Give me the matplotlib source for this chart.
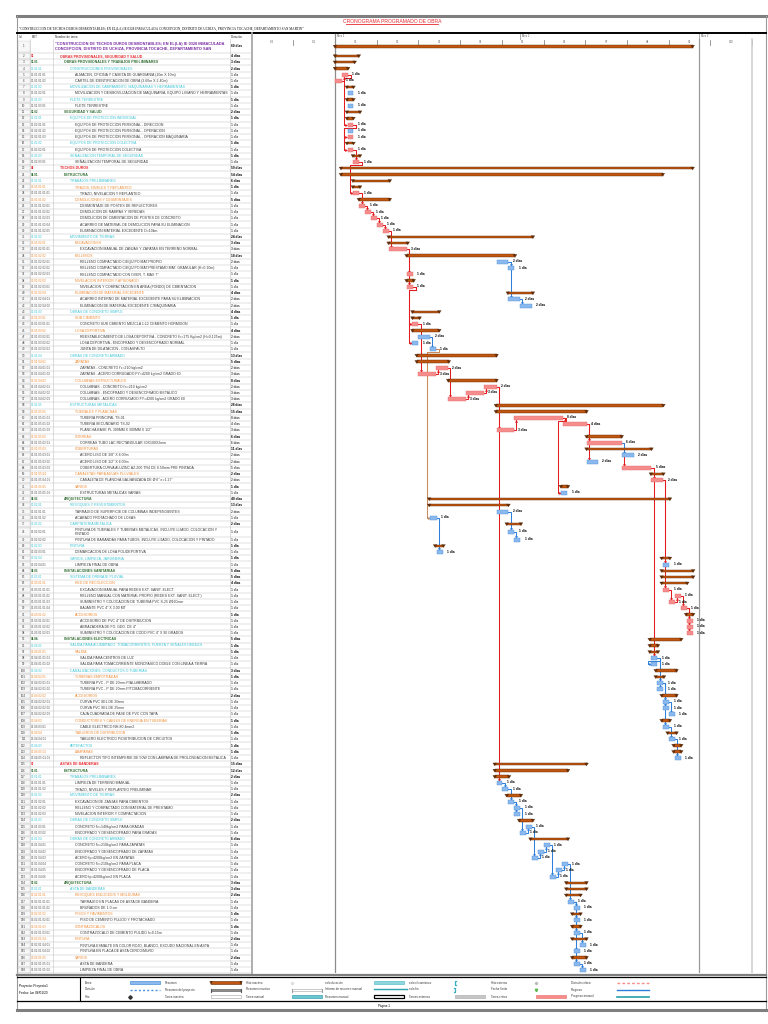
import matplotlib
matplotlib.use('Agg')
import matplotlib.pyplot as plt
from matplotlib.patches import Rectangle, Polygon
import numpy as np

plt.rcParams['font.family'] = ['Liberation Sans', 'DejaVu Sans']

# ---------------- DATA ----------------
title = "CRONOGRAMA PROGRAMADO DE OBRA"
subtitle = ('"CONSTRUCCION DE TECHOS DUROS DESMONTABLES; EN EL(LA) IE 0328 INMACULADA CONCEPCION, '
            'DISTRITO DE UCHIZA, PROVINCIA TOCACHE, DEPARTAMENTO SAN MARTIN"')
col_headers = ["Id", "EDT", "Nombre de tarea", "Duración"]
month_labels = ["Mes 1", "Mes 2", "Mes 3"]
month_days = [0, 31, 61]
week_labels = ["S-2", "S-1", "S1", "S2", "S3", "S4", "S5", "S6", "S7", "S8", "S9", "S10"]
week_starts = [-14, -7, 0, 7, 14, 21, 28, 35, 42, 49, 56, 63]

edt_codes = [
    "", "01", "01.01.", "01.01.01", "01.01.01.01", "01.01.01.02", "01.01.02", "01.01.02.01",
    "01.01.03", "01.01.03.01", "01.02.", "01.02.01", "01.02.01.01", "01.02.01.02", "01.02.01.03",
    "01.02.02", "01.02.02.01", "01.02.03", "01.02.03.01", "02", "02.01.", "02.01.01",
    "02.01.01.01", "02.01.01.01.01", "02.01.01.02", "02.01.01.02.01", "02.01.01.02.02",
    "02.01.01.02.03", "02.01.01.02.04", "02.01.01.02.05", "02.01.02", "02.01.02.01",
    "02.01.02.01.01", "02.01.02.02", "02.01.02.02.01", "02.01.02.02.02", "02.01.02.02.03",
    "02.01.02.03", "02.01.02.03.01", "02.01.02.04", "02.01.02.04.01", "02.01.02.04.02",
    "02.01.03", "02.01.03.01", "02.01.03.01.01", "02.01.03.02", "02.01.03.02.01",
    "02.01.03.02.02", "02.01.03.02.03", "02.01.04", "02.01.04.01", "02.01.04.01.01",
    "02.01.04.01.02", "02.01.04.02", "02.01.04.02.01", "02.01.04.02.02", "02.01.04.02.03",
    "02.01.05", "02.01.05.01", "02.01.05.01.01", "02.01.05.01.02", "02.01.05.01.03",
    "02.01.05.02", "02.01.05.02.01", "02.01.05.03", "02.01.05.03.01", "02.01.05.03.02",
    "02.01.05.03.03", "02.01.05.04", "02.01.05.04.01", "02.01.05.05", "02.01.05.05.01",
    "02.02.", "02.02.01", "02.02.01.01", "02.02.01.02", "02.02.02", "02.02.02.01",
    "02.02.02.02", "02.02.03", "02.02.03.01", "02.02.04", "02.02.04.01", "02.03.",
    "02.03.01", "02.03.01.01", "02.03.01.01.01", "02.03.01.01.02", "02.03.01.01.03",
    "02.03.01.01.04", "02.03.01.02", "02.03.01.02.01", "02.03.01.02.02", "02.03.01.02.03",
    "02.04.", "02.04.01", "02.04.01.01", "02.04.01.01.01", "02.04.01.01.02", "02.04.02",
    "02.04.02.01", "02.04.02.01.01", "02.04.02.01.02", "02.04.02.02", "02.04.02.02.01",
    "02.04.02.02.02", "02.04.02.02.03", "02.04.03", "02.04.03.01", "02.04.04",
    "02.04.04.01", "02.04.05", "02.04.05.01", "02.04.05.01.01", "03", "03.01.", "03.01.01",
    "03.01.01.01", "03.01.01.02", "03.01.02", "03.01.02.01", "03.01.02.02", "03.01.02.03",
    "03.01.03", "03.01.03.01", "03.01.03.02", "03.01.04", "03.01.04.01", "03.01.04.02",
    "03.01.04.03", "03.01.04.04", "03.01.04.05", "03.01.04.06", "03.02.", "03.02.01",
    "03.02.01.01", "03.02.01.01.01", "03.02.01.01.02", "03.02.01.02", "03.02.01.02.01",
    "03.02.01.03", "03.02.01.03.01", "03.02.01.04", "03.02.01.04.01", "03.02.01.04.02",
    "03.02.01.05", "03.02.01.05.01", "03.02.01.05.02",
]

task_names = [
    '"CONSTRUCCION DE TECHOS DUROS DESMONTABLES; EN EL(LA) IE 0328 INMACULADA\nCONCEPCION, DISTRITO DE UCHIZA, PROVINCIA TOCACHE, DEPARTAMENTO SAN',
    "OBRAS PROVISIONALES, SEGURIDAD Y SALUD",
    "OBRAS PROVISIONALES Y TRABAJOS PRELIMINARES",
    "CONSTRUCCIONES PROVISIONALES",
    "ALMACEN, OFICINA Y CASETA DE GUARDIANIA (10m X 10m)",
    "CARTEL DE IDENTIFICACION DE OBRA (3.60m X 2.40m)",
    "MOVILIZACION DE CAMPAMENTO, MAQUINARIAS Y HERRAMIENTAS",
    "MOVILIZACION Y DESMOVILIZACION DE MAQUINARIA, EQUIPO LIVIANO Y HERRAMIENTAS",
    "FLETE TERRESTRE",
    "FLETE TERRESTRE",
    "SEGURIDAD Y SALUD",
    "EQUIPOS DE PROTECCION INDIVIDUAL",
    "EQUIPOS DE PROTECCION PERSONAL - DIRECCION",
    "EQUIPOS DE PROTECCION PERSONAL - OPERACION",
    "EQUIPOS DE PROTECCION PERSONAL - OPERACION MAQUINARIA",
    "EQUIPOS DE PROTECCION COLECTIVA",
    "EQUIPOS DE PROTECCION COLECTIVA",
    "SEÑALIZACION TEMPORAL DE SEGURIDAD",
    "SEÑALIZACION TEMPORAL DE SEGURIDAD",
    "TECHOS DUROS",
    "ESTRUCTURA",
    "TRABAJOS PRELIMINARES",
    "TRAZOS, NIVELES Y REPLANTEO",
    "TRAZO, NIVELACION Y REPLANTEO",
    "DEMOLICIONES Y DESMONTAJES",
    "DESMONTAJE DE POSTES DE REFLECTORES",
    "DEMOLICION DE RAMPAS Y VEREDAS",
    "DEMOLICION DE CIMENTACION DE POSTES DE CONCRETO",
    "ACARREO DE MATERIAL DE DEMOLICION PARA SU ELIMINACION",
    "ELIMINACION MATERIAL EXCEDENTE D=10km",
    "MOVIMIENTO DE TIERRAS",
    "EXCAVACIONES",
    "EXCAVACION MANUAL DE ZANJAS Y ZAPATAS EN TERRENO NORMAL",
    "RELLENOS",
    "RELLENO COMPACTADO C/EQUIPO MAT.PROPIO",
    "RELLENO COMPACTADO C/EQUIPO MAT.PRESTAMO MAT. GRANULAR (H=0.10m)",
    'RELLENO COMPACTADO CON OVER, T. MAX 7"',
    "NIVELACION INTERIOR Y APISONADO",
    "NIVELACION Y COMPACTACION EN AREA (FONDO) DE CIMENTACION",
    "ELIMINACION DE MATERIAL EXCEDENTE",
    "ACARREO INTERNO DE MATERIAL EXCEDENTE PARA SU ELIMINACION",
    "ELIMINACION DE MATERIAL EXCEDENTE C/MAQUINARIA",
    "OBRAS DE CONCRETO SIMPLE",
    "SUB CIMIENTO",
    "CONCRETO SUB CIMIENTO MEZCLA 1:12 CEMENTO HORMIGON",
    "LOSA DEPORTIVA",
    "REESTABLECIMIENTO DE LOSA DEPORTIVA - CONCRETO f'c=175 Kg/cm2 (H=0.125m)",
    "LOSA DEPORTIVA - ENCOFRADO Y DESENCOFRADO NORMAL",
    "JUNTA DE DILATACION - CON ASFALTO",
    "OBRAS DE CONCRETO ARMADO",
    "ZAPATAS",
    "ZAPATAS - CONCRETO f'c=210 kg/cm2",
    "ZAPATAS - ACERO CORRUGADO FY=4200 kg/cm2 GRADO 60",
    "COLUMNAS ESTRUCTURALES",
    "COLUMNAS - CONCRETO f'c=210 kg/cm2",
    "COLUMNAS - ENCOFRADO Y DESENCOFRADO METALICO",
    "COLUMNAS - ACERO CORRUGADO FY=4200 kg/cm2 GRADO 60",
    "ESTRUCTURAS METALICAS",
    "TIJERALES Y PLANCHAS",
    "TUBERIA PRINCIPAL TS-01",
    "TUBERIA SECUNDARIO TS-02",
    'PLANCHA BASE PL 300MM X 300MM X 1/2"',
    "CORREAS",
    "CORREAS TUBO LAC RECTANGULAR 30X100X2mm",
    "COBERTURAS",
    'ACERO LISO DE 3/8" X 6.00m',
    'ACERO LISO DE 1/2" X 6.00m',
    "COBERTURA CURVA ALUZINC AZ-200 TR4 DE 0.50mm PRE PINTADA",
    "CANALETAS PARA AGUAS PLUVIALES",
    'CANALETA DE PLANCHA GALVANIZADA DE Ø 6" e=1.27"',
    "VARIOS",
    "ESTRUCTURAS METALICAS VARIAS",
    "ARQUITECTURA",
    "REVOQUES Y REVESTIMIENTOS",
    "TARRAJEO DE SUPERFICIE DE COLUMNAS INDEPENDIENTES",
    "ACABADO FROTACHADO DE LOSAS",
    "CARPINTERIA METALICA",
    "PINTURA DE TIJERALES Y TUBERIAS METALICAS, INCLUYE LIJADO, COLOCACION Y\nPINTADO",
    "PINTURA DE BARANDAS PARA TUBOS, INCLUYE LIJADO, COLOCACION Y PINTADO",
    "PINTURA",
    "DEMARCACION DE LOSA POLIDEPORTIVA",
    "VARIOS, LIMPIEZA, JARDINERIA",
    "LIMPIEZA FINAL DE OBRA",
    "INSTALACIONES SANITARIAS",
    "SISTEMA DE DRENAJE PLUVIAL",
    "RED DE RECOLECCION",
    "EXCAVACION MANUAL PARA REDES EXT. SANIT. ELECT.",
    "RELLENO MANUAL CON MATERIAL PROPIO (REDES EXT. SANIT. ELECT.)",
    "SUMINISTRO Y COLOCACION DE TUBERIA PVC S-25 Ø160mm",
    'BAJANTE PVC 4" X 3.00 MT',
    "ACCESORIOS",
    'ACCESORIO DE PVC 4" DE DISTRIBUCION',
    'ABRAZADERA DE FO. GDO. DE 4"',
    'SUMINISTRO Y COLOCACION DE CODO PVC 4" X 90 GRADOS',
    "INSTALACIONES ELECTRICAS",
    "SALIDA PARA ALUMBRADO, TOMACORRIENTES, FUERZA Y SEÑALES DEBILES",
    "SALIDA",
    "SALIDA PARA CENTROS DE LUZ",
    "SALIDA PARA TOMACORRIENTE MONOFASICO DOBLE CON LINEA A TIERRA",
    "CANALIZACIONES, CONDUCTOS O TUBERIAS",
    "TUBERIAS EMPOTRADAS",
    "TUBERIA PVC - P DE 20mm P/ALUMBRADO",
    "TUBERIA PVC - P DE 20mm P/TOMACORRIENTE",
    "ACCESORIOS",
    "CURVA PVC SEL DE 20mm",
    "CURVA PVC SEL DE 25mm",
    "CAJA CUADRADA DE PASE DE PVC CON TAPA",
    "CONDUCTORES Y CABLES DE ENERGIA EN TUBERIAS",
    "CABLE ELECTRICO NH-80 4mm2",
    "TABLEROS DE DISTRIBUCION",
    "TABLERO ELECTRICO P/DISTRIBUCION DE CIRCUITOS",
    "ARTEFACTOS",
    "LAMPARAS",
    "REFLECTOR TIPO INTEMPERIE DE 50W CON LAMPARA DE PROLONGACION METALICA",
    "ASTAS DE BANDERAS",
    "ESTRUCTURA",
    "TRABAJOS PRELIMINARES",
    "LIMPIEZA DE TERRENO MANUAL",
    "TRAZO, NIVELES Y REPLANTEO PRELIMINAR",
    "MOVIMIENTO DE TIERRAS",
    "EXCAVACION DE ZANJAS PARA CIMIENTOS",
    "RELLENO Y COMPACTADO CON MATERIAL DE PRESTAMO",
    "NIVELACION INTERIOR Y COMPACTACION",
    "OBRAS DE CONCRETO SIMPLE",
    "CONCRETO f'c=140kg/cm2 PARA GRADAS",
    "ENCOFRADO Y DESENCOFRADO PARA GRADAS",
    "OBRAS DE CONCRETO ARMADO",
    "CONCRETO f'c=210kg/cm2 PARA ZAPATAS",
    "ENCOFRADO Y DESENCOFRADO DE ZAPATAS",
    "ACERO fy=4200kg/cm2 EN ZAPATAS",
    "CONCRETO f'c=210kg/cm2 PARA PLACA",
    "ENCOFRADO Y DESENCOFRADO DE PLACA",
    "ACERO fy=4200kg/cm2 EN PLACA",
    "ARQUITECTURA",
    "ASTA DE BANDERAS",
    "REVOQUES ENLUCIDOS Y MOLDURAS",
    "TARRAJEO EN PLACAS DE ASTA DE BANDERA",
    "BRUÑADOS DE 1.0 cm",
    "PISOS Y PAVIMENTOS",
    "PISO DE CEMENTO PULIDO Y FROTACHADO",
    "CONTRAZOCALOS",
    "CONTRAZOCALO DE CEMENTO PULIDO h=0.15m",
    "PINTURA",
    "PINTURA ESMALTE EN COLOR ROJO, BLANCO, ESCUDO NACIONAL EN ASTA",
    "PINTURA EN PLACA DE ASTA CERCO/MURO",
    "VARIOS",
    "ASTA DE BANDERA",
    "LIMPIEZA FINAL DE OBRA",
]

durations = [
    "60 días", "4 días", "3 días", "2 días", "1 día", "1 día", "1 día", "1 día", "1 día", "1 día",
    "2 días", "1 día", "1 día", "1 día", "1 día", "1 día", "1 día", "1 día", "1 día", "59 días",
    "54 días", "6 días", "1 día", "1 día", "5 días", "1 día", "1 día", "1 día", "1 día", "1 día",
    "24 días", "3 días", "3 días", "18 días", "2 días", "1 día", "1 día", "1 día", "1 día", "4 días",
    "2 días", "2 días", "4 días", "1 día", "1 día", "4 días", "2 días", "1 día", "1 día", "13 días",
    "5 días", "2 días", "3 días", "8 días", "2 días", "3 días", "3 días", "28 días", "15 días", "8 días",
    "4 días", "3 días", "6 días", "6 días", "11 días", "2 días", "2 días", "5 días", "2 días", "2 días",
    "1 día", "1 día", "40 días", "13 días", "2 días", "1 día", "2 días", "1 día", "1 día", "1 día",
    "1 día", "1 día", "1 día", "5 días", "5 días", "4 días", "1 día", "1 día", "1 día", "1 día",
    "1 día", "1 día", "1 día", "1 día", "5 días", "1 día", "1 día", "1 día", "1 día", "3 días",
    "1 día", "1 día", "1 día", "2 días", "1 día", "1 día", "1 día", "1 día", "1 día", "1 día",
    "1 día", "1 día", "1 día", "1 día", "15 días", "12 días", "2 días", "1 día", "1 día", "2 días",
    "1 día", "1 día", "1 día", "2 días", "1 día", "1 día", "6 días", "1 día", "1 día", "1 día",
    "1 día", "1 día", "1 día", "3 días", "3 días", "2 días", "1 día", "1 día", "1 día", "1 día",
    "1 día", "1 día", "2 días", "1 día", "1 día", "2 días", "1 día", "1 día",
]

# row style: P project, R red group, G green group, C cyan group, O orange group, T task
row_kinds = list(
    "PRGCTTCTCTGCTTTCTCTRGCOTOTTTTTCOTOTTTOTOTTCOTOTTTCOTTOTTTCOTTTOTOTTTOTOTGCTTCTTCTCTGCOTTTTOTTTGCOTTCOTTOTTTOTOTCOTRGCTTCTTTCTTCTTTTTTGCOTTOTOTOTTOTT"
)

# Gantt bars (days from project start); S summary, C critical task, N normal task
bar_start = [
    0, 0, 0, 0, 1.2, 0, 2, 2.1, 2, 2.1, 2, 2, 2.1, 2.1, 2.1, 2, 2.1, 3, 3.1, 1,
    1, 3, 3, 3.1, 4, 4.1, 5.1, 6.1, 7.1, 8.1, 9, 9, 9.1, 12, 27.1, 29.1, 12.1, 12, 12.1, 29,
    29.1, 31.1, 13, 13, 13, 13, 14, 13, 16, 13.7, 13.7, 17, 14, 19, 25, 22, 19, 27, 27, 30,
    38.3, 27.1, 42.2, 42.2, 42.2, 48.1, 42.2, 48.1, 53, 53.1, 37.9, 38, 15.8, 15.8, 27.1, 16, 28.8, 29.1, 30.1, 16.8,
    17.1, 54.8, 55.1, 54.8, 54.8, 54.8, 55.1, 57.1, 56.1, 58.1, 58.9, 59.1, 59.1, 59.1, 52.8, 52.8, 52.8, 53.1, 53.1, 53.8,
    53.8, 54.1, 54.1, 54.8, 55.1, 55.1, 56.1, 54.8, 55.1, 55.8, 56.1, 56.8, 56.8, 57.1, 26.8, 26.8, 26.8, 27.1, 28.1, 28.8,
    29.1, 30.1, 30.1, 30.9, 32.1, 31.1, 32.8, 35.1, 34.1, 33.1, 38.1, 37.1, 36.1, 38.8, 38.8, 38.8, 39.1, 40.1, 39.8, 40.1,
    39.8, 40.1, 39.8, 41.1, 40.1, 39.8, 40.1, 41.1,
]
bar_end = [
    60, 4, 3.3, 2.2, 2.2, 1.1, 3.1, 3.1, 3.1, 3.1, 4.2, 3.1, 3.1, 3.1, 3.1, 3.1, 3.1, 4.2, 4.1, 60,
    55, 9.2, 4.2, 4.1, 9.2, 5.1, 6.1, 7.1, 8.1, 9.1, 33.2, 12.2, 12.1, 30.2, 29.1, 30.1, 13.1, 13.2, 13.1, 33.2,
    31.1, 33.1, 17.5, 14.2, 14, 17.5, 16, 14, 17, 27.1, 19.1, 19, 17, 27.1, 27.1, 25, 22, 55.1, 42.2, 38.3,
    42.2, 30, 48.1, 48.1, 53.1, 50.1, 44.1, 53.1, 55.1, 55.1, 39.1, 39, 56.2, 29.1, 29.1, 17.1, 31.2, 30.1, 31.1, 18.2,
    18.1, 56.2, 56.1, 60.1, 60.1, 59.1, 56.1, 58.1, 57.1, 59.1, 60.1, 60.1, 60.1, 60.1, 58.1, 54.2, 54.2, 54.1, 54.1, 57.3,
    55.2, 55.1, 55.1, 57.3, 56.1, 56.1, 57.1, 56.2, 56.1, 57.3, 57.1, 58.1, 58.1, 58.1, 42.2, 39.1, 29.2, 28.1, 29.1, 31.2,
    30.1, 31.1, 31.1, 33.2, 33.1, 32.1, 39.1, 36.1, 35.1, 34.1, 39.1, 38.1, 37.1, 42.2, 42.2, 41.2, 40.1, 41.1, 41.2, 41.1,
    41.2, 41.1, 42.2, 42.1, 41.1, 42.2, 41.1, 42.1,
]
bar_kind = list(
    "SSSSCCSNSNSSCNCSCSCSSSSCSCCCCCSSCSNNCSCSNNSSCSNNNSSCCSCCCSSCCCSCSNNCSCSNSSNNSNNSNSNSSSCCCCSCCCSSSNNSSNNSNNNSNSNSSNSSSNNSNNNSNNSNNNNNNSSSNNSNSNSNNSNN"
)

# dependency links: (predecessor row, successor row, style) ; c = critical, n = normal, s = summary-coloured
links = [
    (6, 5, 'c'), (5, 13, 'c'), (13, 15, 'c'), (13, 17, 'c'), (17, 19, 'c'), (19, 24, 'c'),
    (24, 26, 'c'), (26, 27, 'c'), (27, 28, 'c'), (28, 29, 'c'), (29, 30, 'c'), (30, 33, 'c'),
    (33, 37, 'c'), (33, 39, 'c'), (39, 45, 'c'), (39, 48, 'c'), (45, 53, 'c'), (53, 52, 'c'),
    (52, 57, 'c'), (57, 56, 'c'), (56, 55, 'c'), (55, 62, 'c'), (55, 118, 'c'), (62, 60, 'c'),
    (60, 61, 'c'), (60, 72, 'c'), (61, 64, 'c'), (61, 67, 'c'), (64, 68, 'c'), (64, 66, 'n'),
    (68, 70, 'c'), (68, 98, 'c'), (70, 83, 'c'), (70, 87, 'c'), (87, 89, 'c'), (89, 88, 'c'),
    (88, 90, 'c'), (90, 92, 'c'), (90, 93, 'c'), (90, 94, 'c'), (35, 36, 'n'),
    (35, 41, 'n'), (41, 42, 'n'), (47, 49, 'n'), (49, 76, 's'), (76, 81, 'n'), (75, 78, 'n'),
    (78, 79, 'n'), (98, 99, 'n'), (98, 102, 'n'), (98, 103, 'n'), (102, 105, 'n'), (102, 106, 'n'),
    (102, 109, 'n'), (105, 107, 'n'), (109, 111, 'n'), (111, 114, 'n'), (118, 119, 'n'),
    (119, 121, 'n'), (121, 122, 'n'), (121, 123, 'n'), (122, 126, 'n'), (126, 125, 'n'),
    (125, 130, 'n'), (130, 129, 'n'), (129, 128, 'n'), (128, 133, 'n'), (133, 132, 'n'),
    (132, 131, 'n'), (131, 137, 'n'), (137, 138, 'n'), (137, 140, 'n'), (137, 142, 'n'),
    (137, 145, 'n'), (137, 147, 'n'), (142, 144, 'n'), (147, 148, 'n'),
]

legend_labels = [
    ["Tarea", "Resumen", "Hito inactivo", "solo duración", "solo el comienzo", "Hito externo", "División crítica"],
    ["División", "Resumen del proyecto", "Resumen inactivo", "Informe de resumen manual", "solo fin", "Fecha límite", "Progreso"],
    ["Hito", "Tarea inactiva", "Tarea manual", "Resumen manual", "Tareas externas", "Tarea crítica", "Progreso manual"],
]
project_info = ["Proyecto: Proyecto1", "Fecha: lun 06/01/20"]
page_label = "Página 1"

# ---------------- STYLE ----------------
KIND_COLOR = {'P': '#7a2fa6', 'R': '#e8262d', 'G': '#2f6b2f', 'C': '#39c4d6', 'O': '#f08a32', 'T': '#3a3a3a'}
KIND_INDENT = {'P': 55, 'R': 60, 'G': 64, 'C': 70, 'O': 75}
SUM_FC, SUM_EC = '#c0560f', '#5e2a06'
CRIT_FC, CRIT_EC = '#f58d8d', '#ea6f6f'
NORM_FC, NORM_EC = '#8bb9ee', '#4d8fdc'
LINK_COL = {'c': '#e41b1f', 'n': '#2f80da', 's': '#c98a5c'}
GRID = '#c3c3c3'

n = len(task_names)
row_h = np.full(n, 6.24)
row_h[0] = 12.9
row_h[77] = 9.36
tops = 40 + np.concatenate([[0], np.cumsum(row_h)[:-1]])
centers = tops + row_h / 2
table_bottom = tops[-1] + row_h[-1]

fig = plt.figure(figsize=(7.68, 10.24), dpi=100)
ax0 = fig.add_axes([0, 0, 1, 1])
ax0.set_xlim(0, 768)
ax0.set_ylim(1024, 0)
ax0.axis('off')

L, R = 17, 766
# frame & header lines
ax0.plot([L, R], [15.5, 15.5], color='#7f7f7f', lw=2.2)
ax0.plot([L, L], [15.5, 1010], color='#9a9a9a', lw=0.8)
ax0.plot([R, R], [15.5, 1010], color='#9a9a9a', lw=0.8)
ax0.text(392, 21.5, title, color='#e8262d', fontsize=3.6, ha='center', va='center')
ax0.plot([346, 438], [24.2, 24.2], color='#e8262d', lw=0.6)
ax0.text(19, 28.5, subtitle, fontsize=2.42, ha='left', va='center', family=['Liberation Serif', 'DejaVu Serif'])
ax0.plot([L, R], [33.2, 33.2], color='black', lw=1.4)

# column headers
hx = [19, 32, 55, 231]
for x, h in zip(hx, col_headers):
    ax0.text(x, 36.5, h, fontsize=2.2, ha='left', va='center', color='#333333')

# ID column cells (light row-header look)
for i in range(n):
    ax0.add_patch(Rectangle((17.6, tops[i] + 0.5), 12.0, row_h[i] - 1.0, fc='#f7f7f7', ec='#d0d0d0', lw=0.3))

# table grid
for i in range(n):
    yb = tops[i] + row_h[i]
    ax0.plot([L, 251], [yb, yb], color=GRID, lw=0.35)
for x in (30, 53, 230):
    ax0.plot([x, x], [38.5, table_bottom], color=GRID, lw=0.4)
ax0.plot([251.5, 251.5], [33.2, table_bottom], color='#a8a8a8', lw=1.3)

# table text
indent = []
last_parent = 55
for i, k in enumerate(row_kinds):
    if k != 'T':
        last_parent = KIND_INDENT[k]
        indent.append(last_parent)
    else:
        indent.append(last_parent + 5)

for i in range(n):
    k = row_kinds[i]
    yc = centers[i]
    col = KIND_COLOR[k]
    bold = k in 'PRG'
    ax0.text(23.5, yc, str(i + 1), fontsize=2.2, ha='center', va='center', color='#444444')
    ax0.text(31, yc, edt_codes[i], fontsize=2.2, ha='left', va='center',
             color=(col if k != 'T' else '#555555'), fontweight='bold' if bold else 'normal')
    fs = 2.75 if k == 'P' else 2.55
    ax0.text(indent[i], yc, task_names[i], fontsize=fs, ha='left', va='center', color=col,
             fontweight='bold' if bold else 'normal', linespacing=1.3)
    ax0.text(231, yc, durations[i], fontsize=2.3, ha='left', va='center', color='black',
             fontweight='bold' if k != 'T' else 'normal')

# ---------------- GANTT ----------------
px_per_day = 5.96
x0_px = 335.0
gl, gr, gt = 252.0, 766.0, 33.2
ax = fig.add_axes([gl / 768, 1 - table_bottom / 1024, (gr - gl) / 768, (table_bottom - gt) / 1024])
ax.set_xlim((gl - x0_px) / px_per_day, (gr - x0_px) / px_per_day)
ax.set_ylim(table_bottom, gt)
ax.axis('off')

# timescale
for lab, d in zip(month_labels, month_days):
    ax.plot([d, d], [34, 39], color='#8a8a8a', lw=0.5)
    ax.text(d + 0.4, 36.2, lab, fontsize=1.9, ha='left', va='center', color='#555555')
for lab, d in zip(week_labels, week_starts):
    ax.plot([d + 7, d + 7], [39.5, 44.5], color='#8a8a8a', lw=0.6)
    ax.text(d + 3.5, 42.2, lab, fontsize=1.9, ha='center', va='center', color='#555555')

# body vertical lines (project start / finish / end of timescale)
ax.plot([0, 0], [34, table_bottom], color='#8c8c8c', lw=0.9)
ax.plot([61, 61], [39, table_bottom], color='#9a9a9a', lw=0.9)
ax.plot([70, 70], [39, table_bottom], color='#cfcfcf', lw=1.2)

# links
def draw_link(p, s, style):
    p -= 1
    s -= 1
    col = LINK_COL[style]
    pe, py = bar_end[p], centers[p]
    ss, sy = bar_start[s], centers[s]
    down = sy > py
    if ss >= pe - 0.05:
        xv = ss + 0.35
        ytip = sy - 2.1 if down else sy + 2.1
        ax.plot([pe, xv, xv], [py, py, ytip], color=col, lw=0.75, solid_joinstyle='miter')
        ax.plot([xv], [ytip - (0.7 if down else -0.7)], marker='v' if down else '^', ms=1.7,
                color=col, mec=col, mew=0.2)
    else:
        xr = pe + 0.45
        ym = py + (3.1 if down else -3.1)
        xl = ss - 0.6
        ax.plot([pe, xr, xr, xl, xl, ss - 0.2], [py, py, ym, ym, sy, sy], color=col, lw=0.75)
        ax.plot([ss - 0.2], [sy], marker='>', ms=1.7, color=col, mec=col, mew=0.2)

for p, s, st in links:
    draw_link(p, s, st)

# bars
for i in range(n):
    yc = centers[i]
    s, e, k = bar_start[i], bar_end[i], bar_kind[i]
    if k == 'S':
        ax.add_patch(Rectangle((s, yc - 1.3), e - s, 2.4, fc=SUM_FC, ec=SUM_EC, lw=0.3, zorder=3))
        for xx in (s, e):
            ax.add_patch(Polygon([(xx - 0.32, yc - 1.3), (xx + 0.32, yc - 1.3), (xx, yc + 1.6)],
                                 closed=True, fc=SUM_EC, ec=SUM_EC, lw=0.2, zorder=4))
    else:
        fc, ec = (CRIT_FC, CRIT_EC) if k == 'C' else (NORM_FC, NORM_EC)
        ax.add_patch(Rectangle((s, yc - 2.0), e - s, 4.0, fc=fc, ec=ec, lw=0.3, zorder=3))
        ax.text(e + 0.7, yc - 0.5, durations[i], fontsize=2.3, fontweight='bold',
                ha='left', va='center', color='black', zorder=5)

# ---------------- FOOTER / LEGEND ----------------
ax0.plot([L, R], [975.2, 975.2], color='#7f7f7f', lw=1.6)
ax0.plot([L, R], [977.3, 977.3], color='black', lw=0.9)
ax0.plot([L, R], [1001.0, 1001.0], color='black', lw=0.9)
ax0.plot([80, 80], [977.3, 1001.0], color='black', lw=0.8)
ax0.plot([L, R], [1010.0, 1010.0], color='#7f7f7f', lw=2.2)
ax0.text(19, 986.5, project_info[0], fontsize=2.3, ha='left', va='center')
ax0.text(19, 992.5, project_info[1], fontsize=2.3, ha='left', va='center')
ax0.text(384, 1005.5, page_label, fontsize=2.2, ha='center', va='center')

lab_x = [85, 165, 246, 325, 409, 491, 571]
sw_x = [130, 211, 292, 374, 455, 536, 617]
leg_y = [982.5, 989.5, 996.5]


def bar_sw(x, y, fc, ec, w=30, h=3.4):
    ax0.add_patch(Rectangle((x, y - h / 2), w, h, fc=fc, ec=ec, lw=0.5))


for r, row in enumerate(legend_labels):
    y = leg_y[r]
    for c, lab in enumerate(row):
        ax0.text(lab_x[c], y, lab, fontsize=2.1, ha='left', va='center', color='#333333')
        x = sw_x[c]
        key = (r, c)
        if key == (0, 0):
            bar_sw(x, y, NORM_FC, NORM_EC)
        elif key == (0, 1):
            ax0.add_patch(Rectangle((x, y - 1.2), 30, 2.2, fc=SUM_FC, ec=SUM_EC, lw=0.4))
            for xx in (x, x + 30):
                ax0.add_patch(Polygon([(xx - 1.3, y - 1.3), (xx + 1.3, y - 1.3), (xx, y + 2.0)],
                                      fc=SUM_EC, ec=SUM_EC, lw=0.2))
        elif key == (0, 2):
            ax0.plot([x], [y], marker='D', ms=1.6, mfc='#e6e6e6', mec='#c8c8c8', mew=0.3)
        elif key == (0, 3):
            bar_sw(x, y, '#8fd6de', '#5cbfcb')
        elif key == (0, 4):
            ax0.plot([x + 1, x, x, x + 1], [y - 2, y - 2, y + 2, y + 2], color='#3ab0c0', lw=0.9)
        elif key == (0, 5):
            ax0.plot([x], [y], marker='D', ms=1.6, mfc='#bdbdbd', mec='#9a9a9a', mew=0.3)
        elif key == (0, 6):
            ax0.plot([x, x + 32], [y, y], color='#f58d8d', lw=1.0, ls=(0, (2, 1.5)))
        elif key == (1, 0):
            ax0.plot([x, x + 30], [y, y], color=NORM_EC, lw=1.0, ls=(0, (1.5, 1.5)))
        elif key == (1, 1):
            ax0.add_patch(Rectangle((x, y - 1.0), 30, 2.0, fc='#8c8c8c', ec='#555555', lw=0.4))
            ax0.plot([x, x], [y - 1, y + 2.2], color='#555555', lw=0.8)
            ax0.plot([x + 30, x + 30], [y - 1, y + 2.2], color='#555555', lw=0.8)
        elif key == (1, 2):
            ax0.add_patch(Rectangle((x, y - 1.0), 30, 2.0, fc='white', ec='#a0a0a0', lw=0.4))
            ax0.plot([x, x], [y - 1, y + 2.2], color='#a0a0a0', lw=0.8)
            ax0.plot([x + 30, x + 30], [y - 1, y + 2.2], color='#a0a0a0', lw=0.8)
        elif key == (1, 3):
            ax0.add_patch(Rectangle((x, y - 0.6), 34, 1.4, fc='#3ab0c0', ec='#2a98a8', lw=0.3))
        elif key == (1, 4):
            ax0.plot([x - 1, x, x, x - 1], [y - 2, y - 2, y + 2, y + 2], color='#3ab0c0', lw=0.9)
        elif key == (1, 5):
            ax0.plot([x], [y], marker='v', ms=1.7, color='#58b84a', mec='#58b84a')
        elif key == (1, 6):
            ax0.plot([x, x + 32], [y, y], color='#2f80da', lw=1.0)
        elif key == (2, 0):
            ax0.plot([x], [y], marker='D', ms=1.8, color='#333333')
        elif key == (2, 1):
            bar_sw(x, y, 'white', '#b5b5b5')
        elif key == (2, 2):
            bar_sw(x, y, '#6cc6d0', '#3aa3b1')
        elif key == (2, 3):
            ax0.add_patch(Rectangle((x, y - 1.4), 30, 2.4, fc='white', ec='black', lw=0.9))
        elif key == (2, 4):
            bar_sw(x, y, '#c6c6c6', '#b0b0b0')
        elif key == (2, 5):
            bar_sw(x, y, '#f58d8d', '#f07a7a')
        elif key == (2, 6):
            ax0.plot([x, x + 32], [y, y], color='#2aa0aa', lw=1.2)

fig.savefig('out.png', dpi=100)
